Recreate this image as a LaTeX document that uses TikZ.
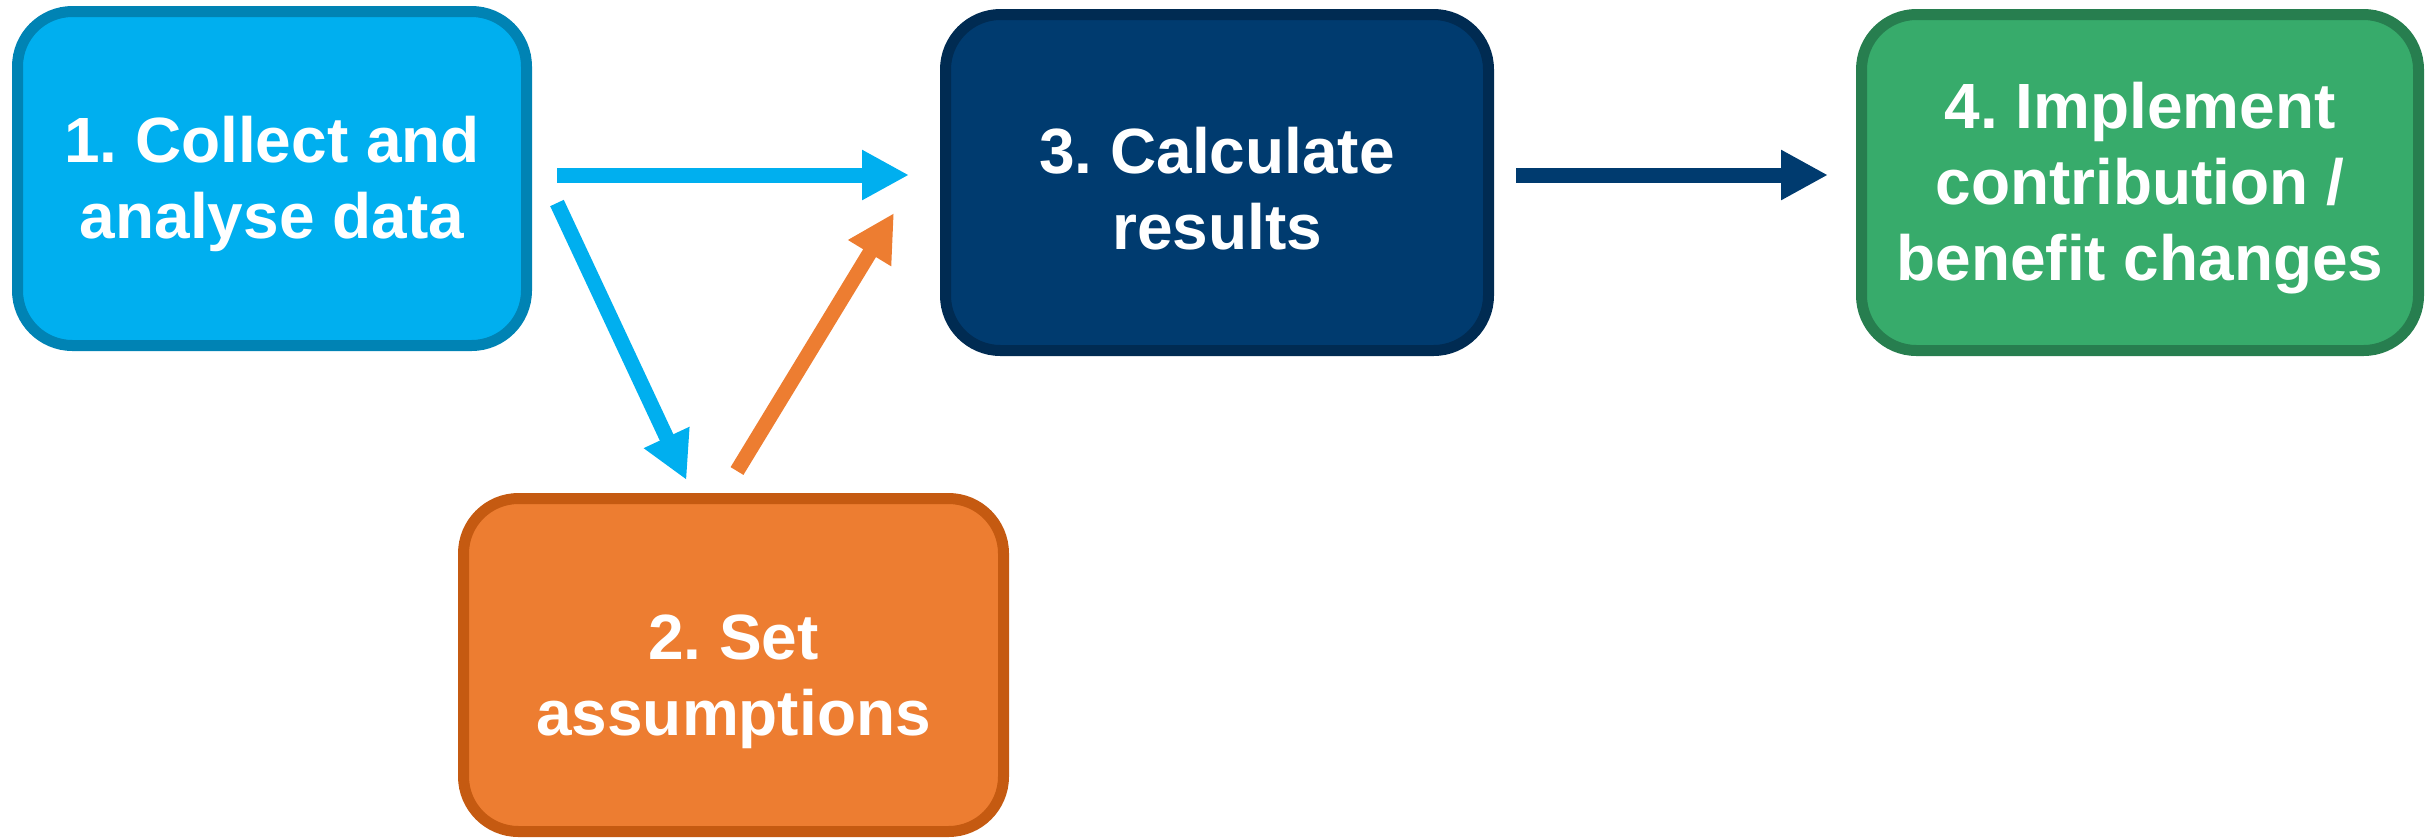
\documentclass[tikz,border=0pt]{standalone}
\usepackage{fontspec}
\setmainfont{Liberation Sans}
\usetikzlibrary{arrows.meta,positioning}
\definecolor{collectfill}{HTML}{00AFEF}
\definecolor{collectline}{HTML}{0083B4}
\definecolor{assumefill}{HTML}{ED7D31}
\definecolor{assumeline}{HTML}{C55A11}
\definecolor{calcfill}{HTML}{003B6F}
\definecolor{calcline}{HTML}{002B52}
\definecolor{implfill}{HTML}{37AB6B}
\definecolor{implline}{HTML}{277E4F}
% taller first line, so the text sits a little lower in its box
\newcommand\sinktext[1]{\rule{0pt}{#1}}
\tikzset{
  stage/.style={rounded corners=0.55cm, line width=0.11cm, inner sep=0pt,
    align=center, text=white, font=\fontsize{18.2pt}{21.6pt}\selectfont\bfseries},
  flow/.style={-{Triangle[length=0.47cm, width=0.47cm]}, line width=0.15cm},
}
\frenchspacing
\begin{document}
\begin{tikzpicture}
  \useasboundingbox (0,0) rectangle (24.27,-8.39);
  % stages
  \node[stage, draw=collectline, fill=collectfill, minimum width=5.09cm, minimum height=3.34cm]
    (collect) at (2.72,-1.785) {\sinktext{0.58cm}1. Collect and\\analyse data};
  \node[stage, draw=calcline, fill=calcfill, minimum width=5.43cm, minimum height=3.36cm]
    (calc) at (12.17,-1.825) {\sinktext{0.58cm}3. Calculate\\results};
  \node[stage, draw=implline, fill=implfill, minimum width=5.57cm, minimum height=3.36cm]
    (impl) at (21.40,-1.825) {\sinktext{0.58cm}4. Implement\\contribution /\\benefit changes};
  \node[stage, draw=assumeline, fill=assumefill, minimum width=5.40cm, minimum height=3.33cm]
    (assume) at (7.335,-6.65) {\sinktext{0.78cm}2. Set\\assumptions};
  % arrows
  \draw[flow, collectfill] ([xshift=0.25cm, yshift=0.035cm]collect.east)
    -- ([xshift=-0.31cm, yshift=0.075cm]calc.west);
  \draw[flow, collectfill] ([xshift=0.25cm, yshift=-1.97cm]collect.north east)
    -- ([xshift=-0.47cm, yshift=0.13cm]assume.north);
  \draw[flow, assumefill] ([xshift=0.035cm, yshift=0.22cm]assume.north)
    -- ([xshift=-0.46cm, yshift=-0.305cm]calc.west);
  \draw[flow, calcfill] ([xshift=0.22cm, yshift=0.075cm]calc.east)
    -- ([xshift=-0.28cm, yshift=0.075cm]impl.west);
\end{tikzpicture}
\end{document}
